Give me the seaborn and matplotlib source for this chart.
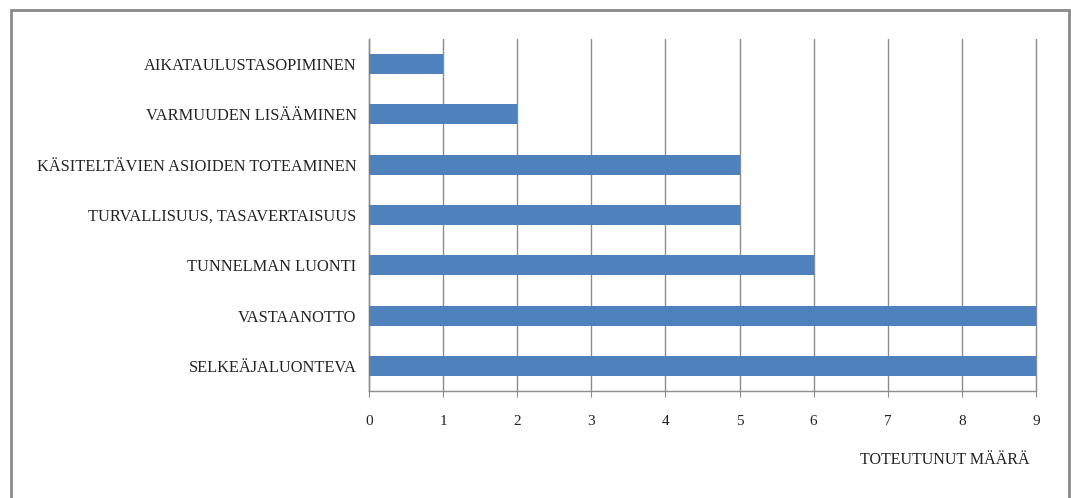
import matplotlib
matplotlib.use("Agg")
import matplotlib.pyplot as plt
import seaborn as sns
import pandas as pd
from matplotlib.patches import Rectangle

categories = [
    "AIKATAULUSTASOPIMINEN",
    "VARMUUDEN LISÄÄMINEN",
    "KÄSITELTÄVIEN ASIOIDEN TOTEAMINEN",
    "TURVALLISUUS, TASAVERTAISUUS",
    "TUNNELMAN LUONTI",
    "VASTAANOTTO",
    "SELKEÄJALUONTEVA",
]
values = [1, 2, 5, 5, 6, 9, 9]
xticks = list(range(0, 10))
xlabel = "TOTEUTUNUT MÄÄRÄ"

df = pd.DataFrame({"cat": categories, "val": values})

sns.set_style("white")
plt.rcParams["font.family"] = ["Liberation Serif", "DejaVu Serif"]

fig = plt.figure(figsize=(10.71, 4.98), dpi=100)
ax = fig.add_axes([369/1071, 1-391/498, (1036-369)/1071, (391-39)/498])

sns.barplot(data=df, y="cat", x="val", orient="h", color="#4F81BD",
            saturation=1, width=0.4, ax=ax, zorder=3, linewidth=0)

ax.set_xlim(0, 9)
ax.set_ylim(6.5, -0.5)
ax.set_xticks(xticks)
ax.set_xlabel("")
ax.set_ylabel("")
ax.grid(axis="x", color="#8c8c8c", linewidth=1, zorder=0)
ax.grid(axis="y", visible=False)
for gl in ax.get_xgridlines():
    gl.set_clip_on(False)
ax.set_axisbelow(True)
for s in ["top", "right"]:
    ax.spines[s].set_visible(False)
for s in ["left", "bottom"]:
    ax.spines[s].set_color("#8c8c8c")
    ax.spines[s].set_linewidth(1)
ax.tick_params(axis="x", length=4, color="#8c8c8c", direction="out",
               pad=13, labelsize=11, labelcolor="#222222", bottom=True)
ax.tick_params(axis="y", length=0, pad=9, labelsize=11.8, labelcolor="#222222")

fig.text(1030/1071, 1-460/498, xlabel, ha="right", va="center",
         fontsize=11.5, color="#222222")

frame = Rectangle((11/1071, -0.1), (1069-11)/1071, 1.1 - 10/498,
                  transform=fig.transFigure, fill=False,
                  edgecolor="#8a8a8a", linewidth=2, clip_on=False)
fig.patches.append(frame)

fig.savefig("out.png", dpi=100)
